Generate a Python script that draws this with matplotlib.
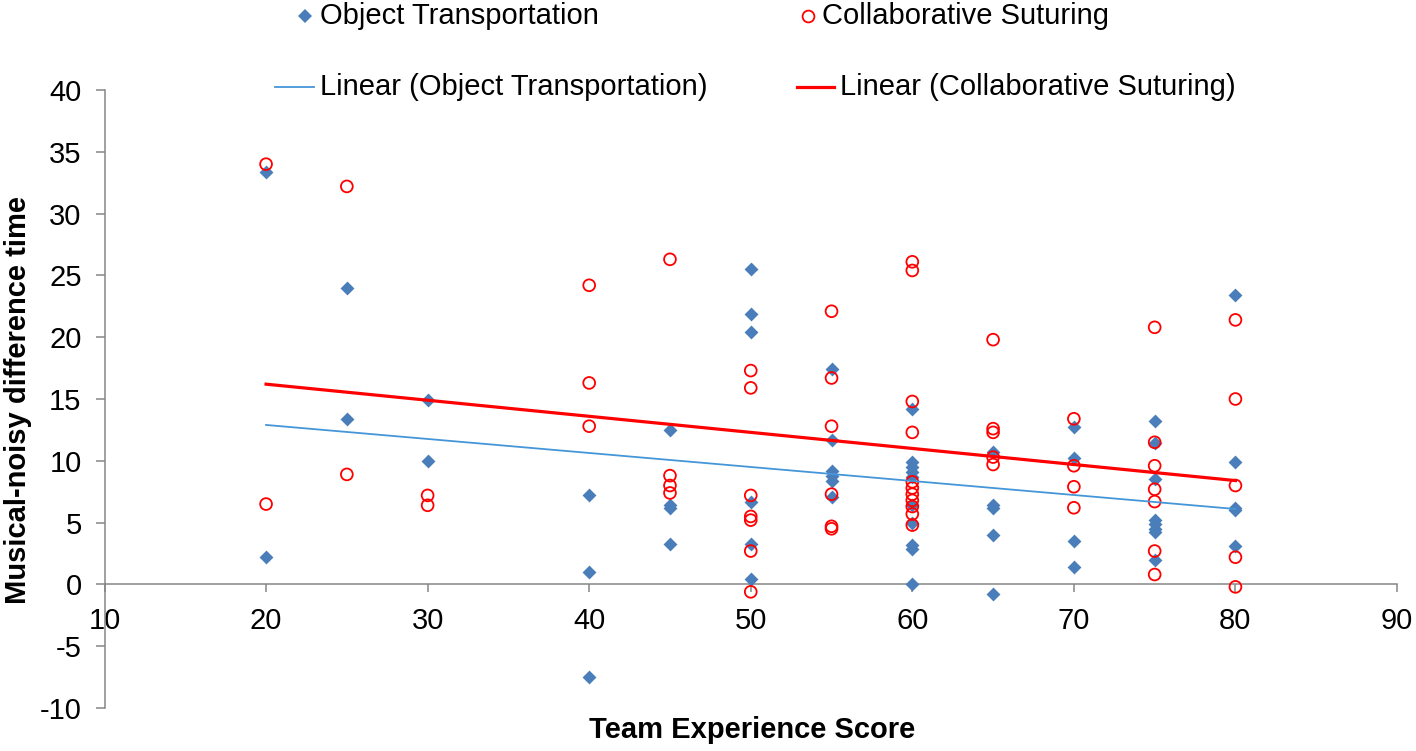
import matplotlib
matplotlib.use("Agg")
import matplotlib.pyplot as plt
from matplotlib.lines import Line2D
import numpy as np

plt.rcParams['font.family'] = ['Liberation Sans', 'DejaVu Sans']
plt.rcParams['axes.unicode_minus'] = False

# ---- data ----
ot_x = [20, 20, 25, 25, 30, 30, 40, 40, 40, 45, 45, 45, 45,
        50, 50, 50, 50, 50, 50, 55, 55, 55, 55, 55, 55,
        60, 60, 60, 60, 60, 60, 60, 60, 60, 60,
        65, 65, 65, 65, 65, 70, 70, 70, 70,
        75, 75, 75, 75, 75, 75, 75, 75, 80, 80, 80, 80, 80]
ot_y = [33.4, 2.2, 24.0, 13.4, 14.9, 10.0, 7.2, 1.0, -7.5, 12.5, 6.4, 6.2, 3.3,
        25.5, 21.9, 20.4, 6.7, 3.3, 0.4, 17.4, 11.7, 9.2, 8.8, 8.4, 7.1,
        14.2, 9.9, 9.5, 9.1, 8.7, 6.4, 5.0, 3.2, 2.9, 0.0,
        10.7, 6.4, 6.2, 4.0, -0.8, 12.7, 10.2, 3.5, 1.4,
        13.2, 11.4, 8.5, 5.2, 4.9, 4.5, 4.2, 2.0, 23.4, 9.9, 6.2, 6.0, 3.1]

cs_x = [20, 20, 25, 25, 30, 30, 40, 40, 40, 45, 45, 45, 45,
        50, 50, 50, 50, 50, 50, 50, 55, 55, 55, 55, 55, 55,
        60, 60, 60, 60, 60, 60, 60, 60, 60, 60, 60,
        65, 65, 65, 65, 65, 70, 70, 70, 70,
        75, 75, 75, 75, 75, 75, 75, 80, 80, 80, 80, 80]
cs_y = [34.0, 6.5, 32.2, 8.9, 7.2, 6.4, 24.2, 16.3, 12.8, 26.3, 8.8, 8.0, 7.4,
        17.3, 15.9, 7.2, 5.5, 5.2, 2.7, -0.6, 22.1, 16.7, 12.8, 7.3, 4.7, 4.5,
        26.1, 25.4, 14.8, 12.3, 8.3, 7.8, 7.3, 6.8, 6.3, 5.7, 4.8,
        19.8, 12.6, 12.3, 10.3, 9.7, 13.4, 9.6, 7.9, 6.2,
        20.8, 11.5, 9.6, 7.7, 6.7, 2.7, 0.8, 21.4, 15.0, 8.0, 2.2, -0.2]

trend_x = [20, 80]
ot_trend = [12.9, 6.1]
cs_trend = [16.2, 8.4]

x_ticks = [10, 20, 30, 40, 50, 60, 70, 80, 90]
y_ticks = [-10, -5, 0, 5, 10, 15, 20, 25, 30, 35, 40]

BLUE = '#4A7EBB'
BLUE_LINE = '#4596D8'
RED = '#FF0000'
GRAY = '#868686'
FS = 21

W, H = 1416, 751
fig = plt.figure(figsize=(W / 100, H / 100), dpi=100)
ax = fig.add_axes([104.5 / W, 1 - 708 / H, (1397 - 104.5) / W, (708 - 90) / H])

ax.scatter(ot_x, ot_y, marker='D', s=50, color=BLUE, linewidths=0, zorder=3)
ax.scatter(cs_x, cs_y, marker='o', s=72, facecolors='none', edgecolors=RED,
           linewidths=1.3, zorder=4)
ax.plot(trend_x, ot_trend, color=BLUE_LINE, lw=1.3, zorder=5)
ax.plot(trend_x, cs_trend, color=RED, lw=2.3, zorder=5)

ax.set_xlim(10, 90)
ax.set_ylim(-10, 40)
ax.set_xticks(x_ticks)
ax.set_yticks(y_ticks)
for s in ['top', 'right']:
    ax.spines[s].set_visible(False)
ax.spines['bottom'].set_position(('data', 0))
for s in ['left', 'bottom']:
    ax.spines[s].set_color(GRAY)
    ax.spines[s].set_linewidth(1.1)
ax.tick_params(axis='x', direction='out', length=6, width=1.1, color=GRAY,
               pad=10, labelsize=FS)
ax.tick_params(axis='y', direction='out', length=6.5, width=1.1, color=GRAY,
               pad=10, labelsize=FS)

fig.text(18 / W, 1 - 400 / H, 'Musical-noisy difference time', rotation=90,
         ha='center', va='center', fontsize=FS, fontweight='bold')
fig.text(752 / W, 1 - 730 / H, 'Team Experience Score', ha='center',
         va='center', fontsize=FS, fontweight='bold')

# legend
def fx(p):
    return p / W
def fy(p):
    return 1 - p / H

fig.add_artist(Line2D([fx(305)], [fy(16)], marker='D', ms=7, color=BLUE,
                      mew=0, transform=fig.transFigure))
fig.text(fx(320), fy(16), 'Object Transportation', ha='left', va='center',
         fontsize=FS)
fig.add_artist(Line2D([fx(808)], [fy(16)], marker='o', ms=8.5, mfc='none',
                      mec=RED, mew=1.3, transform=fig.transFigure))
fig.text(fx(822), fy(16), 'Collaborative Suturing', ha='left', va='center',
         fontsize=FS)
fig.add_artist(Line2D([fx(275), fx(314)], [fy(87), fy(87)], color=BLUE_LINE,
                      lw=1.3, transform=fig.transFigure))
fig.text(fx(320), fy(87), 'Linear (Object Transportation)', ha='left',
         va='center', fontsize=FS)
fig.add_artist(Line2D([fx(797), fx(834)], [fy(87), fy(87)], color=RED,
                      lw=2.3, transform=fig.transFigure))
fig.text(fx(840), fy(87), 'Linear (Collaborative Suturing)', ha='left',
         va='center', fontsize=FS)

fig.savefig('out.png', dpi=100)
